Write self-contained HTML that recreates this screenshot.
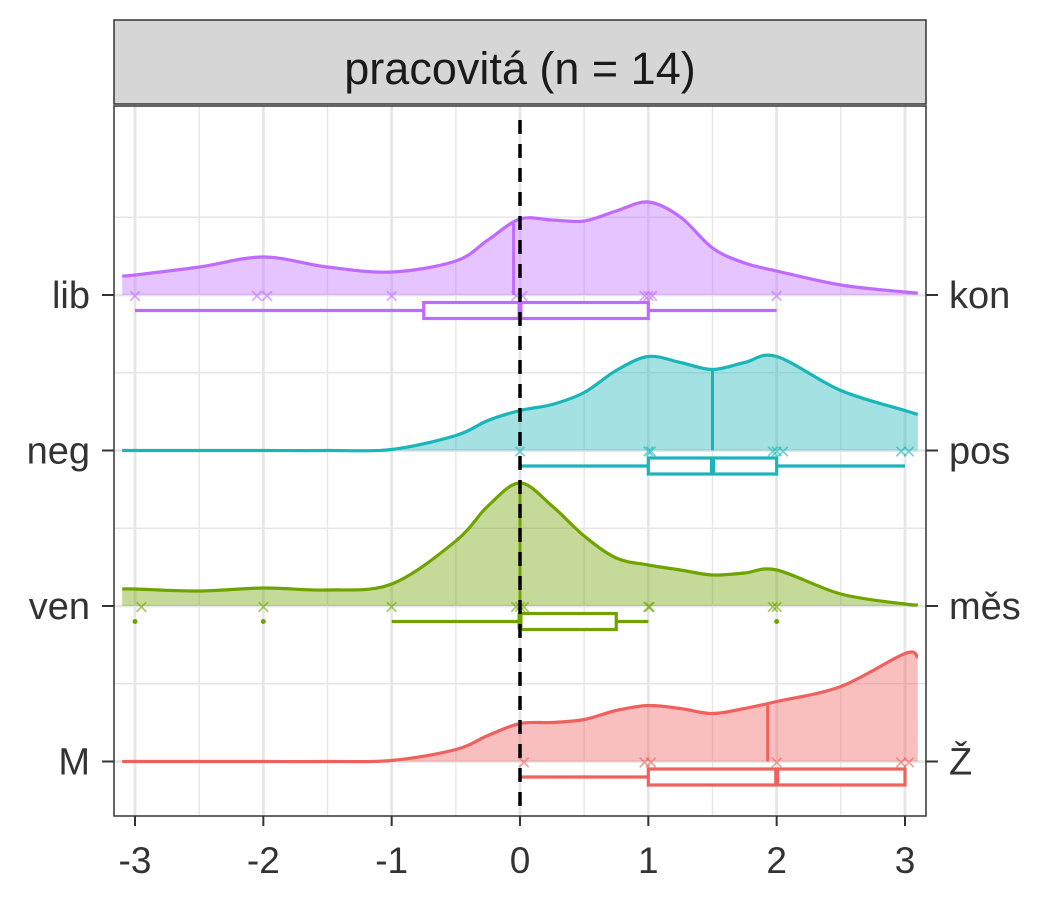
<!DOCTYPE html>
<html><head><meta charset="utf-8"><style>
html,body{margin:0;padding:0;background:#fff;}
svg{display:block;font-family:"Liberation Sans",sans-serif;}
</style></head><body>
<svg id="chart" width="1050" height="900" viewBox="0 0 1050 900">
<rect x="0" y="0" width="1050" height="900" fill="#fff"/>
<g id="grid"></g>
<g id="series"></g>
<g id="axes"></g>
<rect x="114" y="106" width="812" height="710" fill="none" stroke="#333" stroke-width="1.5"/>
<rect x="114" y="20" width="812" height="84" fill="#D6D6D6" stroke="#333" stroke-width="1.5"/>
<text x="520" y="84" text-anchor="middle" font-size="45" fill="#1a1a1a">pracovitá (n = 14)</text>
</svg>
<script>
const categories = ['M','ven','neg','lib'];
const rightLabels = ['Ž','měs','pos','kon'];
const colors = ['#F0605D','#6FA300','#1AB5B8','#C06BFF'];
const xTicks = [-3,-2,-1,0,1,2,3];
const densX = [-3.1,-3,-2.5,-2,-1.5,-1,-0.5,-0.25,0,0.25,0.5,0.75,1,1.25,1.5,1.75,2,2.5,3,3.1];
const densM   = [0,0,0,0,0,1,12,26,38,39,42,51,56,53,48,53,60,75,108,104];
const densVen = [17,17,15,18,16,22,65,100,123,100,70,48,41,36,31,33,36,12,2,1];
const densNeg = [0,0,0,0,0,1,15,30,40,46,58,80,94,88,81,88,94,60,40,36];
const densLib = [19,20,28,38,28,23,34,55,76,75,74,84,93,78,47,32,24,10,3,2];
const medM = 1.93, medVen = 0, medNeg = 1.5, medLib = -0.05;
const boxM   = [0,1,2,3,3];
const boxVen = [-1,0,0,0.75,1];
const boxNeg = [0,1,1.5,2,3];
const boxLib = [-3,-0.75,0,1,2];
const outVen = [-3,-2,2];
const ptsM   = [0.03,0.97,1.02,2,2.97,3.03];
const ptsVen = [-2.95,-2,-1,-0.03,0,0.03,1,1.01,1.97,2];
const ptsNeg = [0,1,1.02,1.97,2,2.05,2.97,3.03];
const ptsLib = [-3,-2.05,-1.97,-1,-0.03,0.02,0.97,1,1.03,2];

const NS='http://www.w3.org/2000/svg';
const xs = v => 520 + v*128.33;
const ys = i => 761.5 - i*155.5;
function mk(tag, attrs, parent){const e=document.createElementNS(NS,tag);for(const k in attrs)e.setAttribute(k,attrs[k]);parent.appendChild(e);return e;}
const grid=document.getElementById('grid'), series=document.getElementById('series'), axes=document.getElementById('axes');

for(let v=-3;v<=3;v+=0.5){
  const l=mk('line',{x1:xs(v),x2:xs(v),y1:106,y2:816,stroke:'#E6E6E6','stroke-width':Number.isInteger(v)?2.8:1.4},grid);
  
  
}
for(let i=0;i<4;i++){
  const l=mk('line',{x1:114,x2:926,y1:ys(i),y2:ys(i),stroke:'#E6E6E6','stroke-width':2.8},grid);
  
  
  const m=mk('line',{x1:114,x2:926,y1:ys(i)-77.75,y2:ys(i)-77.75,stroke:'#E6E6E6','stroke-width':1.4},grid);
  
  
}

function smoothPath(pts){
  let d='M'+pts[0][0]+','+pts[0][1];
  for(let i=0;i<pts.length-1;i++){
    const p0=pts[Math.max(i-1,0)],p1=pts[i],p2=pts[i+1],p3=pts[Math.min(i+2,pts.length-1)];
    const c1x=p1[0]+(p2[0]-p0[0])/6,c1y=p1[1]+(p2[1]-p0[1])/6;
    const c2x=p2[0]-(p3[0]-p1[0])/6,c2y=p2[1]-(p3[1]-p1[1])/6;
    d+=' C'+c1x.toFixed(1)+','+c1y.toFixed(1)+' '+c2x.toFixed(1)+','+c2y.toFixed(1)+' '+p2[0].toFixed(1)+','+p2[1].toFixed(1);
  }
  return d;
}
function interp(dens,v){
  for(let i=0;i<densX.length-1;i++){if(v>=densX[i]&&v<=densX[i+1]){const t=(v-densX[i])/(densX[i+1]-densX[i]);return dens[i]+t*(dens[i+1]-dens[i]);}}
  return 0;
}
const allDens=[densM,densVen,densNeg,densLib];
const allMed=[medM,medVen,medNeg,medLib];
const allBox=[boxM,boxVen,boxNeg,boxLib];
const allPts=[ptsM,ptsVen,ptsNeg,ptsLib];
const allOut=[[],outVen,[],[]];

for(let i=0;i<4;i++){
  const b=ys(i), c=colors[i], dens=allDens[i];
  const g=mk('g',{},series);
  
  
  const pts=densX.map((v,k)=>[xs(v),b-dens[k]]);
  const line=smoothPath(pts);
  const area=mk('path',{d:line+' L'+xs(densX[densX.length-1])+','+b+' L'+xs(densX[0])+','+b+' Z',fill:c,'fill-opacity':0.4,stroke:'none'},g);
  
  
  const ln=mk('path',{d:line,fill:'none',stroke:c,'stroke-width':3.2},g);
  
  
  const med=allMed[i];
  const ml=mk('line',{x1:xs(med),x2:xs(med),y1:b,y2:b-interp(dens,med),stroke:c,'stroke-width':3},g);
  
  
  allPts[i].forEach(v=>{
    const t=mk('text',{x:xs(v),y:b+9,'text-anchor':'middle','font-size':24,fill:c,'fill-opacity':0.6},g);
    t.textContent='×';
    
    
  });
  const bx=allBox[i], by=b+15.5;
  const w1=mk('line',{x1:xs(bx[0]),x2:xs(bx[1]),y1:by,y2:by,stroke:c,'stroke-width':3.2},g);
  
  
  const w2=mk('line',{x1:xs(bx[3]),x2:xs(bx[4]),y1:by,y2:by,stroke:c,'stroke-width':3.2},g);
  
  
  const r=mk('rect',{x:xs(bx[1]),y:by-8,width:xs(bx[3])-xs(bx[1]),height:16,fill:'#fff',stroke:c,'stroke-width':3.2},g);
  
  
  const mb=mk('line',{x1:xs(bx[2]),x2:xs(bx[2]),y1:by-8,y2:by+8,stroke:c,'stroke-width':5},g);
  
  
  allOut[i].forEach(v=>{
    const o=mk('circle',{cx:xs(v),cy:by,r:2.5,fill:c},g);
    
    
  });
}
const zl=mk('line',{x1:xs(0),x2:xs(0),y1:120,y2:816,stroke:'#000','stroke-width':3.5,'stroke-dasharray':'14,10'},series);



xTicks.forEach(v=>{
  const t=mk('line',{x1:xs(v),x2:xs(v),y1:816,y2:826,stroke:'#333','stroke-width':2},axes);
  
  
  const l=mk('text',{x:xs(v),y:873,'text-anchor':'middle','font-size':37,fill:'#333'},axes);
  l.textContent=String(v);
  
  
});
for(let i=0;i<4;i++){
  const b=ys(i);
  const t=mk('line',{x1:102,x2:114,y1:b,y2:b,stroke:'#333','stroke-width':2},axes);
  
  
  const l=mk('text',{x:90,y:b+13,'text-anchor':'end','font-size':38,fill:'#333'},axes);
  l.textContent=categories[i];
  
  
  const t2=mk('line',{x1:926,x2:938,y1:b,y2:b,stroke:'#333','stroke-width':2},axes);
  
  
  const l2=mk('text',{x:949,y:b+13,'text-anchor':'start','font-size':38,fill:'#333'},axes);
  l2.textContent=rightLabels[i];
  
  
}
</script>
</body></html>
